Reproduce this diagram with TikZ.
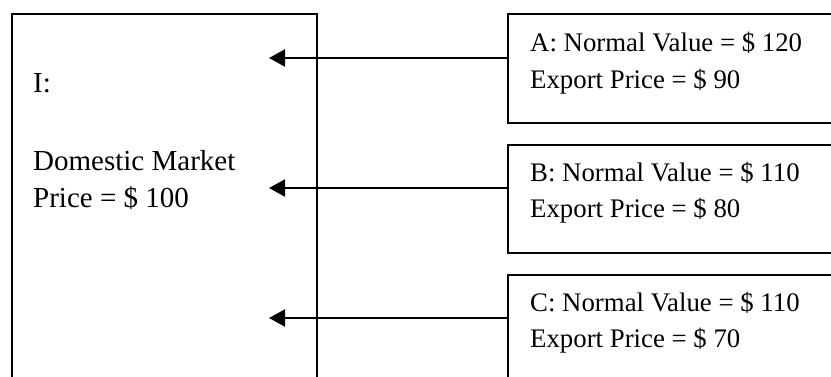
\documentclass[tikz,border=0pt]{standalone}
\usepackage{fontspec}
\setmainfont{Liberation Serif}
\usetikzlibrary{arrows.meta}
\begin{document}
\begin{tikzpicture}[x=1pt,y=-1pt,
  box/.style={draw, line width=1.7pt, inner sep=0pt, outer sep=0pt},
  lbl/.style={anchor=base west, inner sep=0pt, font=\fontsize{29}{36}\selectfont},
  rlbl/.style={anchor=base west, inner sep=0pt, font=\fontsize{26.8}{34}\selectfont},
  conn/.style={line width=2pt, -{Triangle[length=16pt,width=17pt]}}]
\useasboundingbox (0,0) rectangle (831,376);
\clip (0,0) rectangle (831,376);
\node[box, minimum width=305pt, minimum height=386pt] (I) at (164.5,207) {};
\node[box, minimum width=342pt, minimum height=109pt] (A) at (679,68.5) {};
\node[box, minimum width=342pt, minimum height=108pt] (B) at (679,199) {};
\node[box, minimum width=342pt, minimum height=125pt] (C) at (679,337.5) {};
\node[lbl] (ti) at (33,92) {I:};
\node[lbl] (td1) at (33,170) {Domestic Market};
\node[lbl] (td2) at (33,207) {Price = \$ 100};
\node[rlbl] (ta1) at (530,51) {A: Normal Value = \$ 120};
\node[rlbl] (ta2) at (530,88) {Export Price = \$ 90};
\node[rlbl] (tb1) at (530,181) {B: Normal Value = \$ 110};
\node[rlbl] (tb2) at (530,217) {Export Price = \$ 80};
\node[rlbl] (tc1) at (530,311) {C: Normal Value = \$ 110};
\node[rlbl] (tc2) at (530,347) {Export Price = \$ 70};
\coordinate (pa) at (269,58);
\coordinate (pb) at (269,188);
\coordinate (pc) at (269,318);
\draw[conn] (A.west |- pa) -- (pa);
\draw[conn] (B.west |- pb) -- (pb);
\draw[conn] (C.west |- pc) -- (pc);
\end{tikzpicture}
\end{document}
